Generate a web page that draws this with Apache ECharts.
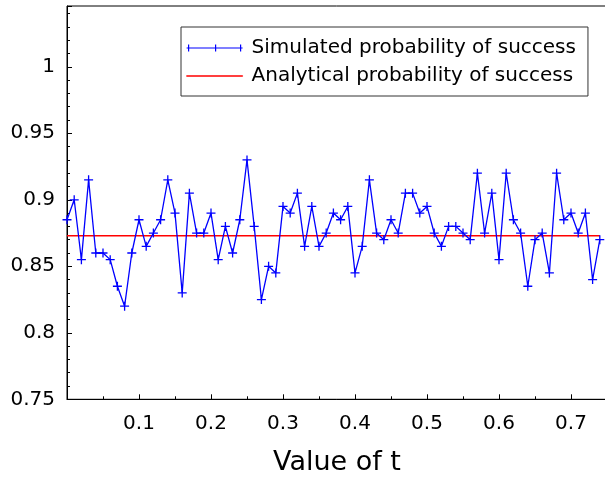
<!DOCTYPE html>
<html>
<head>
<meta charset="utf-8">
<script src="https://cdn.jsdelivr.net/npm/echarts@6/dist/echarts.min.js"></script>
<style>
html,body{margin:0;padding:0;background:#fff;}
#chart{width:605px;height:479px;}
</style>
</head>
<body>
<div id="chart"></div>
<script>
// Data
const tValues = [0.00,0.01,0.02,0.03,0.04,0.05,0.06,0.07,0.08,0.09,
  0.10,0.11,0.12,0.13,0.14,0.15,0.16,0.17,0.18,0.19,
  0.20,0.21,0.22,0.23,0.24,0.25,0.26,0.27,0.28,0.29,
  0.30,0.31,0.32,0.33,0.34,0.35,0.36,0.37,0.38,0.39,
  0.40,0.41,0.42,0.43,0.44,0.45,0.46,0.47,0.48,0.49,
  0.50,0.51,0.52,0.53,0.54,0.55,0.56,0.57,0.58,0.59,
  0.60,0.61,0.62,0.63,0.64,0.65,0.66,0.67,0.68,0.69,
  0.70,0.71,0.72,0.73,0.74];
const simulated = [0.885,0.900,0.855,0.915,0.860,0.860,0.855,0.835,0.820,0.860,
  0.885,0.865,0.875,0.885,0.915,0.890,0.830,0.905,0.875,0.875,
  0.890,0.855,0.880,0.860,0.885,0.930,0.880,0.825,0.850,0.845,
  0.895,0.890,0.905,0.865,0.895,0.865,0.875,0.890,0.885,0.895,
  0.845,0.865,0.915,0.875,0.870,0.885,0.875,0.905,0.905,0.890,
  0.895,0.875,0.865,0.880,0.880,0.875,0.870,0.920,0.875,0.905,
  0.855,0.920,0.885,0.875,0.835,0.870,0.875,0.845,0.920,0.885,
  0.890,0.875,0.890,0.840,0.870];
const analyticalValue = 0.873;
const analyticalRange = [0.00, 0.74];
const seriesNames = ['Simulated probability of success', 'Analytical probability of success'];
const xAxisName = 'Value of t';

const simData = tValues.map((t, i) => [t, simulated[i]]);
const anaData = analyticalRange.map(t => [t, analyticalValue]);

const FONT = 'DejaVu Sans';
const chart = echarts.init(document.getElementById('chart'), null, {renderer: 'canvas'});
chart.setOption({
  animation: false,
  backgroundColor: '#fff',
  textStyle: {fontFamily: FONT},
  grid: {
    left: 67, top: 6, width: 540, height: 393.3,
    containLabel: false,
    outerBoundsMode: 'none',
    show: true, borderColor: '#000', borderWidth: 1, backgroundColor: 'transparent'
  },
  xAxis: {
    type: 'value',
    min: 0, max: 0.75, interval: 0.1,
    name: xAxisName,
    nameLocation: 'middle',
    nameGap: 50,
    nameTextStyle: {fontFamily: FONT, fontSize: 27, color: '#000'},
    axisLine: {show: true, onZero: false, lineStyle: {color: '#000', width: 1}},
    axisTick: {show: true, inside: true, length: 5, lineStyle: {color: '#000'}},
    minorTick: {show: true, splitNumber: 2, length: 3, lineStyle: {color: '#000'}},
    splitLine: {show: false},
    axisLabel: {
      fontFamily: FONT, fontSize: 20, color: '#000', margin: 14,
      showMinLabel: false, showMaxLabel: false,
      formatter: v => String(+v.toFixed(2))
    }
  },
  yAxis: {
    type: 'value',
    min: 0.75, max: 1.0457, interval: 0.05,
    axisLine: {show: true, onZero: false, lineStyle: {color: '#000', width: 1}},
    axisTick: {show: true, inside: true, length: 5, lineStyle: {color: '#000'}},
    minorTick: {show: true, splitNumber: 5, length: 3, lineStyle: {color: '#000'}},
    splitLine: {show: false},
    axisLabel: {
      fontFamily: FONT, fontSize: 20, color: '#000', margin: 12,
      showMaxLabel: false,
      formatter: v => String(+v.toFixed(2))
    }
  },
  legend: {
    orient: 'vertical',
    left: 181, top: 27,
    backgroundColor: '#fff',
    borderColor: '#333', borderWidth: 1, borderRadius: 0,
    padding: [11, 12, 10, 5],
    itemWidth: 56, itemHeight: 14, itemGap: 8,
    selectedMode: false,
    textStyle: {fontFamily: FONT, fontSize: 20, lineHeight: 20, color: '#000', padding: [0, 0, 0, 4]},
    data: [
      {name: seriesNames[0], icon: 'path://M0,3.5L56,3.5M2,0L2,7M29,0L29,7M54,0L54,7',
       itemStyle: {color: '#0000ff', borderColor: '#0000ff', borderWidth: 1.2}},
      {name: seriesNames[1], icon: 'path://M0,0L56,0L56,1L0,1Z',
       itemStyle: {color: '#ff0000', borderColor: '#ff0000', borderWidth: 0.5}}
    ]
  },
  series: [
    {
      name: seriesNames[0],
      type: 'line',
      data: simData,
      symbol: 'path://M0,4L8,4M4,0L4,8',
      symbolSize: 9,
      showAllSymbol: true,
      lineStyle: {color: '#0000ff', width: 1.3},
      itemStyle: {color: '#0000ff', borderColor: '#0000ff', borderWidth: 1.3},
      silent: true,
      z: 3
    },
    {
      name: seriesNames[1],
      type: 'line',
      data: anaData,
      symbol: 'none',
      lineStyle: {color: '#ff0000', width: 1.5},
      itemStyle: {color: '#ff0000'},
      silent: true,
      z: 2
    }
  ]
});
</script>
</body>
</html>
